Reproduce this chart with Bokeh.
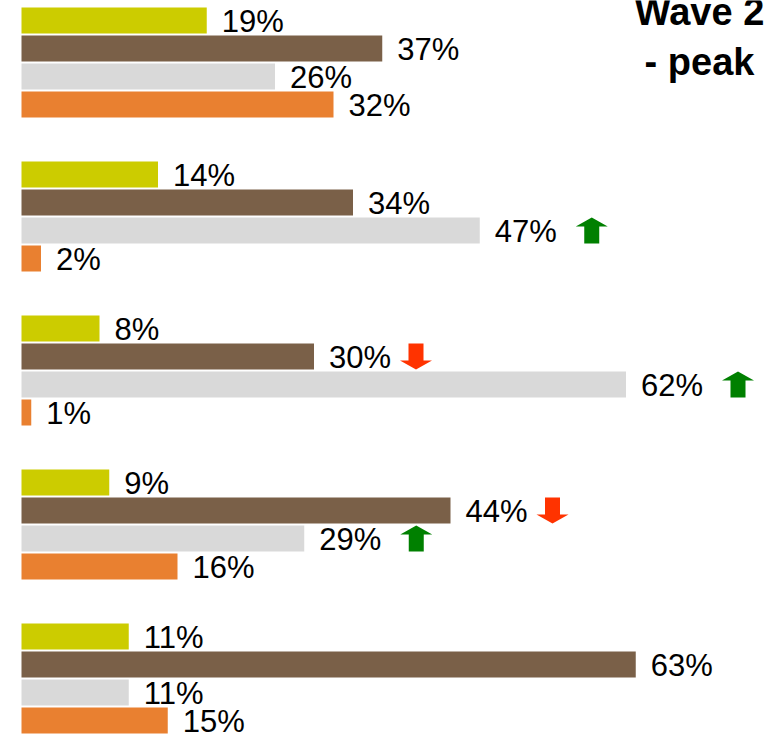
from bokeh.plotting import figure
from bokeh.models import Range1d, ColumnDataSource, Label
from bokeh.embed import file_html
from bokeh.resources import INLINE
from bokeh.core.properties import value

# ---- data ----
groups = ["Group 1", "Group 2", "Group 3", "Group 4", "Group 5"]
series_names = ["Series 1", "Series 2", "Series 3", "Series 4"]
yellow = [19, 14, 8, 9, 11]
brown = [37, 34, 30, 44, 63]
gray = [26, 47, 62, 29, 11]
orange = [32, 2, 1, 16, 15]
yellow_change = ["", "", "", "", ""]
brown_change = ["", "", "down", "down", ""]
gray_change = ["", "up", "up", "up", ""]
orange_change = ["", "", "", "", ""]
title_lines = ["Wave 2", "- peak"]

# ---- styles ----
colors = ["#cccc00", "#7a6048", "#d9d9d9", "#e98030"]
UP_COLOR = "#008000"
DOWN_COLOR = "#ff3300"
FONT = "Liberation Sans"

W, H = 771, 735
PX_PER_PCT = 9.75
SLOT_PX = 28.0
x_start = -21 / PX_PER_PCT
x_end = x_start + W / PX_PER_PCT
GROUP_STEP = 5.5
BAR_H = 26 / SLOT_PX
y_end = 20 / SLOT_PX
y_start = y_end - H / SLOT_PX

p = figure(width=W, height=H, output_backend="svg", toolbar_location=None,
           x_range=Range1d(x_start, x_end), y_range=Range1d(y_start, y_end),
           min_border=0, min_border_left=0, min_border_right=0,
           min_border_top=0, min_border_bottom=0)
p.axis.visible = False
p.grid.visible = False
p.outline_line_color = None
p.background_fill_color = "white"
p.border_fill_color = "white"

all_series = [yellow, brown, gray, orange]
all_changes = [yellow_change, brown_change, gray_change, orange_change]

up_xs, up_ys, dn_xs, dn_ys = [], [], [], []
hw = 16 / PX_PER_PCT
sw = 7.5 / PX_PER_PCT
hd = 9 / SLOT_PX
hh = BAR_H / 2
UP_OFF = 112 / PX_PER_PCT
DN_OFF = 102 / PX_PER_PCT

for b, (vals, chg) in enumerate(zip(all_series, all_changes)):
    ys = [-(g * GROUP_STEP + b) for g in range(len(groups))]
    src = ColumnDataSource(dict(y=ys, v=vals, lab=[f"{v}%" for v in vals]))
    p.hbar(y="y", left=0, right="v", height=BAR_H, source=src,
           fill_color=colors[b], line_color=None)
    p.text(x="v", y="y", text="lab", source=src, x_offset=15, y_offset=1,
           text_baseline="middle", text_align="left",
           text_font=value(FONT), text_font_size="31px", text_color="#000000")
    for v, y, c in zip(vals, ys, chg):
        if c == "up":
            cx = v + UP_OFF
            up_xs.append([cx, cx - hw, cx - sw, cx - sw, cx + sw, cx + sw, cx + hw])
            up_ys.append([y + hh, y + hh - hd, y + hh - hd, y - hh, y - hh, y + hh - hd, y + hh - hd])
        elif c == "down":
            cx = v + DN_OFF
            dn_xs.append([cx, cx - hw, cx - sw, cx - sw, cx + sw, cx + sw, cx + hw])
            dn_ys.append([y - hh, y - hh + hd, y - hh + hd, y + hh, y + hh, y - hh + hd, y - hh + hd])

p.patches(xs=up_xs, ys=up_ys, fill_color=UP_COLOR, line_color=None)
p.patches(xs=dn_xs, ys=dn_ys, fill_color=DOWN_COLOR, line_color=None)

for i, t in enumerate(title_lines):
    p.add_layout(Label(x=699, y=H - 11 - 50 * i, x_units="screen", y_units="screen",
                       text=t, text_align="center", text_baseline="alphabetic",
                       text_font=FONT, text_font_style="bold", text_font_size="38px",
                       text_color="#000000"))

open("out.html", "w").write(file_html(p, INLINE))
